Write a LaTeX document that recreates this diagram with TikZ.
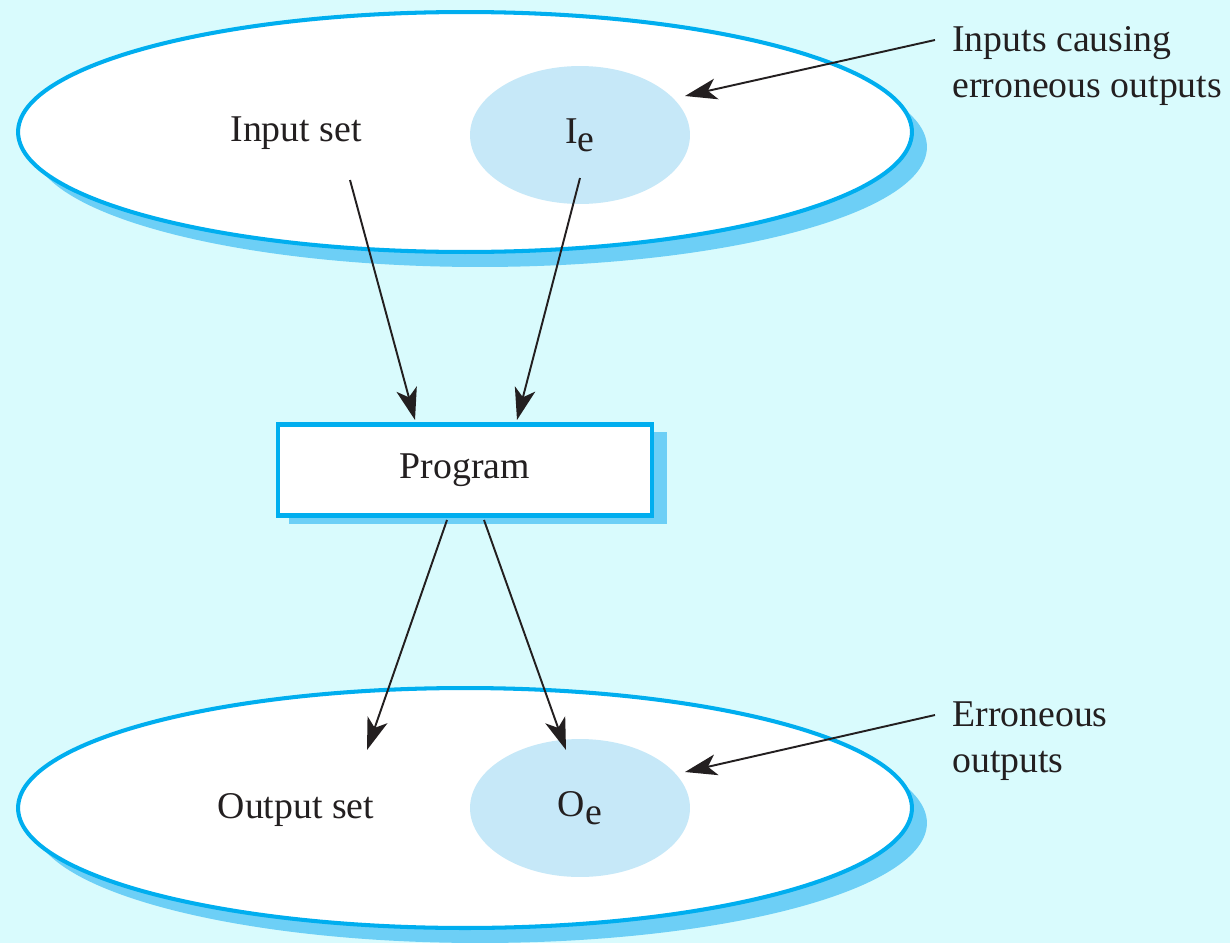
\documentclass[tikz,border=0pt]{standalone}
\usepackage{fontspec}
\setmainfont{Liberation Serif}
\usetikzlibrary{arrows.meta,shapes.geometric}
\definecolor{bgc}{HTML}{D9FBFD}
\definecolor{edgec}{HTML}{00AEEF}
\definecolor{shadc}{HTML}{6DCFF6}
\definecolor{innerc}{HTML}{C6E8F8}
\definecolor{inkc}{HTML}{231F20}
\tikzset{
  txt/.style={font=\fontsize{21.5}{26.5}\selectfont, text=inkc},
  bigset/.style={ellipse, draw=edgec, line width=2.3pt, fill=white, minimum width=17.88cm, minimum height=4.8cm, inner sep=0pt},
  bigshadow/.style={ellipse, fill=shadc, minimum width=17.88cm, minimum height=4.8cm, inner sep=0pt},
  subset/.style={ellipse, fill=innerc, minimum width=4.4cm, minimum height=2.76cm, inner sep=0pt, txt},
  progbox/.style={rectangle, draw=edgec, line width=2.3pt, fill=white, minimum width=7.5cm, minimum height=1.82cm, inner sep=0pt, txt},
  progshadow/.style={rectangle, fill=shadc, minimum width=7.58cm, minimum height=1.86cm, inner sep=0pt},
  arr/.style={draw=inkc, line width=1.1pt, -{Stealth[length=0.64cm,width=0.42cm,inset=0.17cm]}},
}
\begin{document}
\begin{tikzpicture}[x=0.02cm,y=-0.02cm]
\fill[bgc] (0,0) rectangle (1230,943);
\useasboundingbox (0,0) rectangle (1230,943);
% top set
\node[bigshadow] (topsh) at (480,147) {};
\node[bigset] (inset) at (465,132) {};
\node[subset] (ie) at (580,135) {I\raisebox{-0.16cm}{e}};
\node[txt] (inlabel) at (296,133) {Input set};
% program
\node[progshadow] (progsh) at (478,478) {};
\node[progbox] (prog) at (465,470) {Program};
% bottom set
\node[bigshadow] (botsh) at (480,823) {};
\node[bigset] (outset) at (465,808) {};
\node[subset] (oe) at (580,808) {O\raisebox{-0.16cm}{e}};
\node[txt] (outlabel) at (296,810) {Output set};
% annotations
\node[txt, align=left, anchor=north west, inner sep=0pt] (incause) at (952,26) {Inputs causing\\erroneous outputs};
\node[txt, align=left, anchor=north west, inner sep=0pt] (errout) at (952,701) {Erroneous\\outputs};
% coordinates
\coordinate (a1s) at (350,180);
\coordinate (a1e) at (415,420);
\coordinate (a2s) at (580,178);
\coordinate (a2e) at (517,420);
\coordinate (a3s) at (447,520);
\coordinate (a3e) at (367,750);
\coordinate (a4s) at (484,520);
\coordinate (a4e) at (566,750);
\coordinate (c1s) at (935,40);
\coordinate (c1e) at (685,96);
\coordinate (c2s) at (935,715);
\coordinate (c2e) at (685,772);
\draw[arr] (a1s) -- (a1e);
\draw[arr] (a2s) -- (a2e);
\draw[arr] (a3s) -- (a3e);
\draw[arr] (a4s) -- (a4e);
\draw[arr] (c1s) -- (c1e);
\draw[arr] (c2s) -- (c2e);
\end{tikzpicture}
\end{document}
